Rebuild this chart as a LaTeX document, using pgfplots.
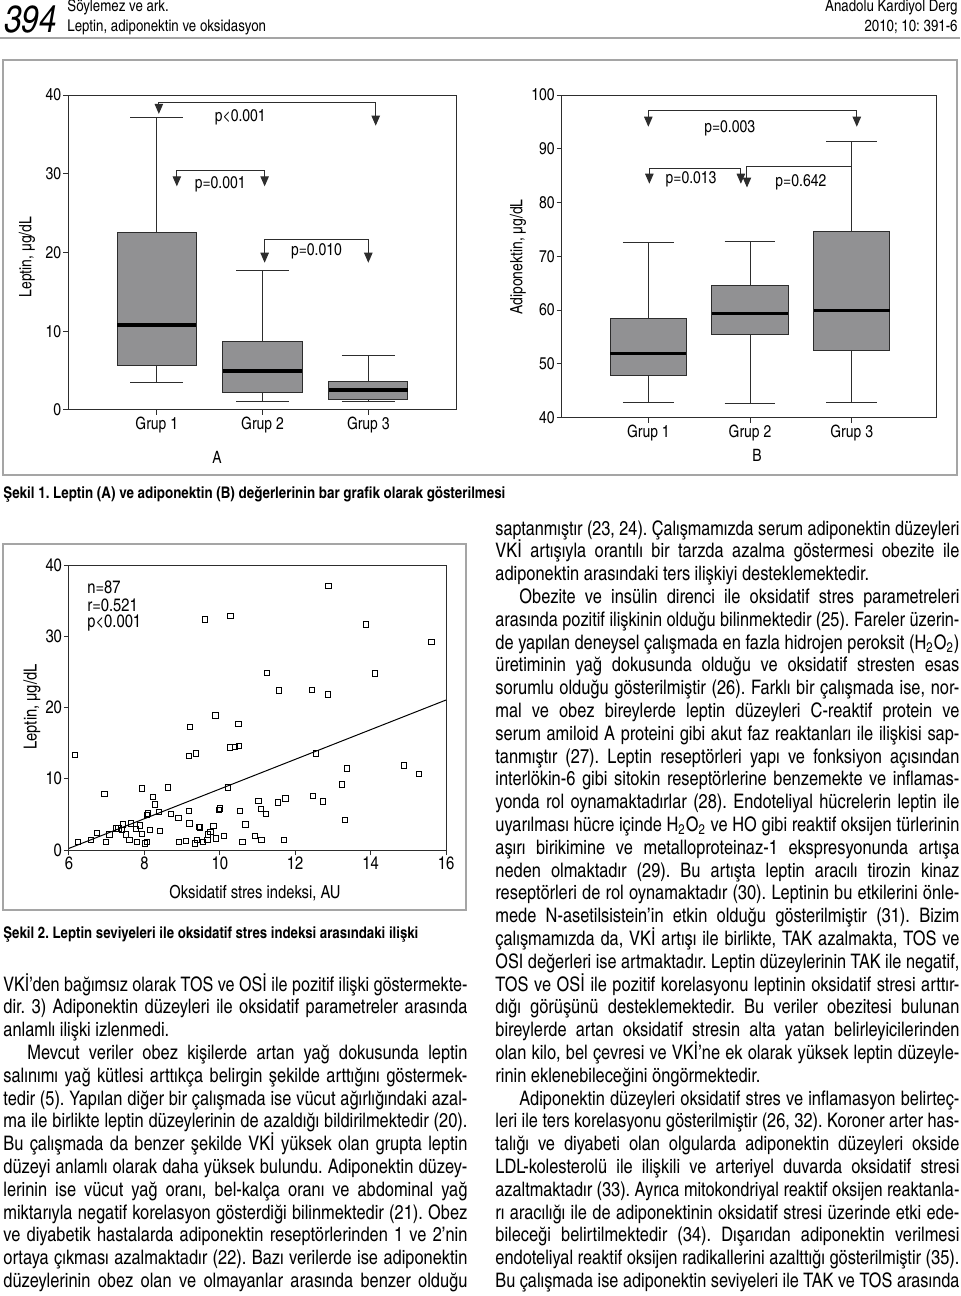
\documentclass[border=0pt]{standalone}
\usepackage{pgfplots}
\pgfplotsset{compat=1.18}
\usepgfplotslibrary{statistics}
\usetikzlibrary{arrows.meta}
\usepackage{graphicx}
\usepackage{fontspec}
\setmainfont{texgyreheroscn}[Extension=.otf,UprightFont=*-regular,BoldFont=*-bold,ItalicFont=*-italic,BoldItalicFont=*-bolditalic]
\definecolor{boxgray}{RGB}{145,145,147}
\definecolor{framegray}{RGB}{165,165,165}
\definecolor{axgray}{RGB}{45,45,45}
\frenchspacing
\newlength\colw \setlength\colw{232pt}
\newlength\jlnat
\newcommand\jl[1]{%
  \settowidth\jlnat{#1}%
  \ifdim\jlnat>\colw
    \pgfmathsetmacro\jlsc{\colw/\jlnat}%
    \scalebox{\jlsc}[1]{#1}%
  \else
    \hbox to \colw{\spaceskip=\fontdimen2\font plus 1fil\relax #1}%
  \fi}
\newcommand\bodyfont{\fontsize{10}{12}\selectfont}
\newcommand\LL[2]{\node[anchor=base west,inner sep=0pt,font=\bodyfont] at (3,{991+22.8*(#1-1)}) {#2};}
\newcommand\RL[2]{\node[anchor=base west,inner sep=0pt,font=\bodyfont] at (495,{535+22.8*(#1-1)}) {#2};}
\newcommand\ind{\hspace*{12pt}}
\pgfplotsset{
  /pgf/number format/assume math mode=true,
  myax/.style={scale only axis, anchor=north west,
    axis line style={draw=axgray, line width=0.5pt},
    tick align=outside, xtick pos=bottom, ytick pos=left,
    major tick length=2.5pt, tick style={axgray, line width=0.5pt},
    xticklabel style={yshift=2.5pt}, yticklabel style={xshift=2.5pt},
    clip=false, boxplot/draw direction=y},
  bx/.style={draw=axgray, line width=0.5pt,
    boxplot/box extend=0.75, boxplot/whisker extend=0.5,
    boxplot/every box/.style={fill=boxgray, draw=axgray},
    boxplot/every median/.style={draw=black, line width=1.6pt}},
}
\tikzset{
  tri/.tip={Triangle[width=4.2pt,length=5pt]},
  parr/.style={-tri, draw=axgray, line width=0.5pt},
  pboth/.style={tri-tri, draw=axgray, line width=0.5pt},
  pleft/.style={tri-, draw=axgray, line width=0.5pt},
}
\begin{document}
\begin{tikzpicture}[x=0.5pt,y=-0.5pt]
\useasboundingbox (0,0) rectangle (960,1296);
\fill[white] (0,0) rectangle (960,1296);
% ---------- header ----------
\node[anchor=base west,inner sep=0pt,font=\fontsize{19}{19}\selectfont\itshape] at (4,32) {394};
\node[anchor=base west,inner sep=0pt,align=left,font=\fontsize{8.1}{10}\selectfont] at (67,31.5) {Söylemez ve ark.\\Leptin, adiponektin ve oksidasyon};
\node[anchor=base east,inner sep=0pt,align=right,font=\fontsize{8.1}{10}\selectfont] at (958,31.5) {Anadolu Kardiyol Derg\\2010; 10: 391-6};
\draw[framegray, line width=1pt] (0,38) -- (960,38);
% ---------- figure 1 frame ----------
\draw[framegray, line width=0.9pt] (3,60) rectangle (957,475);
% ---------- panel A ----------
\begin{axis}[myax, at={(34.15pt,-47.5pt)}, width=193.85pt, height=157.5pt,
  xmin=0.164, xmax=3.829, ymin=0, ymax=40, ytick={0,10,20,30,40},
  xtick={1,2,3}, xticklabels={Grup 1,Grup 2,Grup 3},
  ticklabel style={font=\fontsize{8.5}{10}\selectfont}]
\addplot[bx, boxplot prepared={lower whisker=3.5, lower quartile=5.6, median=10.8, upper quartile=22.5, upper whisker=37.1, draw position=1}] coordinates {};
\addplot[bx, boxplot prepared={lower whisker=1.05, lower quartile=2.2, median=4.95, upper quartile=8.7, upper whisker=17.7, draw position=2}] coordinates {};
\addplot[bx, boxplot prepared={lower whisker=1.05, lower quartile=1.35, median=2.55, upper quartile=3.6, upper whisker=6.95, draw position=3}] coordinates {};
\draw[pboth] (axis cs:1.02,37.6) -- (axis cs:1.02,39.07) -- (axis cs:3.07,39.07) -- (axis cs:3.07,36.1);
\draw[pboth] (axis cs:1.19,28.4) -- (axis cs:1.19,30.4) -- (axis cs:2.02,30.4) -- (axis cs:2.02,28.4);
\draw[pboth] (axis cs:2.02,18.7) -- (axis cs:2.02,21.6) -- (axis cs:3.0,21.6) -- (axis cs:3.0,18.7);
\node[font=\fontsize{8.5}{10}\selectfont] at (axis cs:1.79,37.2) {p<0.001};
\node[font=\fontsize{8.5}{10}\selectfont] at (axis cs:1.60,28.7) {p=0.001};
\node[font=\fontsize{8.5}{10}\selectfont] at (axis cs:2.51,20.2) {p=0.010};
\end{axis}
\node[rotate=90,font=\fontsize{8.5}{10}\selectfont] at (27,257) {Leptin, µg/dL};
\node[font=\fontsize{8.5}{10}\selectfont] at (217,457) {A};
% ---------- panel B ----------
\begin{axis}[myax, at={(280.85pt,-47.5pt)}, width=187.15pt, height=161.35pt,
  xmin=0.148, xmax=3.829, ymin=40, ymax=100, ytick={40,50,...,100},
  xtick={1,2,3}, xticklabels={Grup 1,Grup 2,Grup 3},
  ticklabel style={font=\fontsize{8.5}{10}\selectfont}]
\addplot[bx, boxplot prepared={lower whisker=42.9, lower quartile=47.8, median=51.9, upper quartile=58.5, upper whisker=72.5, draw position=1}] coordinates {};
\addplot[bx, boxplot prepared={lower whisker=42.7, lower quartile=55.5, median=59.3, upper quartile=64.6, upper whisker=72.7, draw position=2}] coordinates {};
\addplot[bx, boxplot prepared={lower whisker=42.9, lower quartile=52.5, median=59.9, upper quartile=74.7, upper whisker=91.4, draw position=3}] coordinates {};
\draw[pboth] (axis cs:1.0,94.1) -- (axis cs:1.0,97.1) -- (axis cs:3.05,97.1) -- (axis cs:3.05,94.1);
\draw[pboth] (axis cs:1.01,83.5) -- (axis cs:1.01,86.3) -- (axis cs:1.91,86.3) -- (axis cs:1.91,83.5);
\draw[pleft] (axis cs:1.97,82.8) -- (axis cs:1.97,86.7) -- (axis cs:3.0,86.7);
\node[font=\fontsize{8.5}{10}\selectfont] at (axis cs:1.80,93.8) {p=0.003};
\node[font=\fontsize{8.5}{10}\selectfont] at (axis cs:1.42,84.3) {p=0.013};
\node[font=\fontsize{8.5}{10}\selectfont] at (axis cs:2.50,83.7) {p=0.642};
\end{axis}
\node[rotate=90,font=\fontsize{8.5}{10}\selectfont] at (518,257) {Adiponektin, µg/dL};
\node[font=\fontsize{8.5}{10}\selectfont] at (757,455) {B};
% ---------- caption 1 ----------
\node[anchor=base west,inner sep=0pt,font=\fontsize{8}{10}\selectfont\bfseries] at (3,498) {\resizebox{251pt}{\height}{Şekil 1. Leptin (A) ve adiponektin (B) değerlerinin bar grafik olarak gösterilmesi}};
% ---------- figure 2 ----------
\draw[framegray, line width=0.9pt] (3,544) rectangle (466,910);
\begin{axis}[myax, at={(34.5pt,-282.5pt)}, width=188.5pt, height=142.5pt,
  xmin=6, xmax=16, ymin=0, ymax=40, xtick={6,8,...,16}, ytick={0,10,...,40},
  ticklabel style={font=\fontsize{9}{10}\selectfont}]
\addplot[only marks, mark=square, mark size=1.3pt, mark options={draw=black, line width=0.35pt, fill=white}] coordinates {
(6.16,13.33) (6.23,1.17) (6.58,1.40) (6.73,2.43) (6.94,7.86) (6.97,1.17) (7.07,2.20) (7.24,3.04)
(7.31,3.04) (7.40,2.81) (7.42,3.60) (7.50,2.20) (7.60,1.40) (7.63,3.74) (7.78,2.99) (7.79,1.17)
(7.87,3.46) (7.94,8.65) (7.94,2.25) (8.02,0.94) (8.06,4.91) (8.09,5.15) (8.07,1.17) (8.14,2.81)
(8.22,7.49) (8.27,6.41) (8.38,5.38) (8.42,2.67) (8.63,8.80) (8.70,5.05) (8.90,4.54) (8.91,1.17)
(9.09,1.31) (9.17,5.47) (9.18,13.19) (9.21,17.31) (9.19,3.74) (9.34,0.94) (9.37,13.57) (9.40,1.40)
(9.45,3.27) (9.47,3.18) (9.55,1.17) (9.60,32.37) (9.67,1.40) (9.69,2.20) (9.75,2.57) (9.83,3.37)
(9.88,18.90) (9.89,1.64) (9.98,5.61) (10.01,5.85) (10.11,2.01) (10.21,8.80) (10.27,14.41) (10.28,32.89)
(10.39,14.50) (10.49,17.73) (10.51,14.64) (10.54,5.47) (10.60,1.17) (10.68,3.60) (10.92,2.01) (11.02,6.92)
(11.08,5.80) (11.10,1.40) (11.22,5.05) (11.25,24.89) (11.55,6.69) (11.56,22.41) (11.69,1.40) (11.74,7.25)
(12.45,22.50) (12.47,7.63) (12.55,13.57) (12.73,6.83) (12.86,21.85) (12.88,37.10) (13.24,9.22) (13.32,4.21)
(13.37,11.46) (13.88,31.67) (14.11,24.80) (14.89,11.88) (15.28,10.67) (15.61,29.19)
};
\addplot[black, line width=0.5pt] coordinates {(6,0.23) (16,21.05)};
\end{axis}
\node[anchor=west,inner sep=0pt,font=\fontsize{9}{10}\selectfont] at (87,587) {n=87};
\node[anchor=west,inner sep=0pt,font=\fontsize{9}{10}\selectfont] at (87,605) {r=0.521};
\node[anchor=west,inner sep=0pt,font=\fontsize{9}{10}\selectfont] at (87,623) {p<0.001};
\node[rotate=90,font=\fontsize{9}{10}\selectfont] at (32,707) {Leptin, µg/dL};
\node[font=\fontsize{9}{10}\selectfont] at (255,893) {Oksidatif stres indeksi, AU};
\node[anchor=base west,inner sep=0pt,font=\fontsize{8}{10}\selectfont\bfseries] at (3,938) {\resizebox{207.5pt}{\height}{Şekil 2. Leptin seviyeleri ile oksidatif stres indeksi arasındaki ilişki}};
% ---------- left column ----------
\LL{1}{\jl{VKİ’den bağımsız olarak TOS ve OSİ ile pozitif ilişki göstermekte-}}
\LL{2}{\jl{dir. 3) Adiponektin düzeyleri ile oksidatif parametreler arasında}}
\LL{3}{anlamlı ilişki izlenmedi.}
\LL{4}{\jl{\ind Mevcut veriler obez kişilerde artan yağ dokusunda leptin}}
\LL{5}{\jl{salınımı yağ kütlesi arttıkça belirgin şekilde arttığını göstermek-}}
\LL{6}{\jl{tedir (5). Yapılan diğer bir çalışmada ise vücut ağırlığındaki azal-}}
\LL{7}{\jl{ma ile birlikte leptin düzeylerinin de azaldığı bildirilmektedir (20).}}
\LL{8}{\jl{Bu çalışmada da benzer şekilde VKİ yüksek olan grupta leptin}}
\LL{9}{\jl{düzeyi anlamlı olarak daha yüksek bulundu. Adiponektin düzey-}}
\LL{10}{\jl{lerinin ise vücut yağ oranı, bel-kalça oranı ve abdominal yağ}}
\LL{11}{\jl{miktarıyla negatif korelasyon gösterdiği bilinmektedir (21). Obez}}
\LL{12}{\jl{ve diyabetik hastalarda adiponektin reseptörlerinden 1 ve 2’nin}}
\LL{13}{\jl{ortaya çıkması azalmaktadır (22). Bazı verilerde ise adiponektin}}
\LL{14}{\jl{düzeylerinin obez olan ve olmayanlar arasında benzer olduğu}}
% ---------- right column ----------
\RL{1}{\jl{saptanmıştır (23, 24). Çalışmamızda serum adiponektin düzeyleri}}
\RL{2}{\jl{VKİ artışıyla orantılı bir tarzda azalma göstermesi obezite ile}}
\RL{3}{adiponektin arasındaki ters ilişkiyi desteklemektedir.}
\RL{4}{\jl{\ind Obezite ve insülin direnci ile oksidatif stres parametreleri}}
\RL{5}{\jl{arasında pozitif ilişkinin olduğu bilinmektedir (25). Fareler üzerin-}}
\RL{6}{\jl{de yapılan deneysel çalışmada en fazla hidrojen peroksit (H\textsubscript{2}O\textsubscript{2})}}
\RL{7}{\jl{üretiminin yağ dokusunda olduğu ve oksidatif stresten esas}}
\RL{8}{\jl{sorumlu olduğu gösterilmiştir (26). Farklı bir çalışmada ise, nor-}}
\RL{9}{\jl{mal ve obez bireylerde leptin düzeyleri C-reaktif protein ve}}
\RL{10}{\jl{serum amiloid A proteini gibi akut faz reaktanları ile ilişkisi sap-}}
\RL{11}{\jl{tanmıştır (27). Leptin reseptörleri yapı ve fonksiyon açısından}}
\RL{12}{\jl{interlökin-6 gibi sitokin reseptörlerine benzemekte ve inflamas-}}
\RL{13}{\jl{yonda rol oynamaktadırlar (28). Endoteliyal hücrelerin leptin ile}}
\RL{14}{\jl{uyarılması hücre içinde H\textsubscript{2}O\textsubscript{2} ve HO gibi reaktif oksijen türlerinin}}
\RL{15}{\jl{aşırı birikimine ve metalloproteinaz-1 ekspresyonunda artışa}}
\RL{16}{\jl{neden olmaktadır (29). Bu artışta leptin aracılı tirozin kinaz}}
\RL{17}{\jl{reseptörleri de rol oynamaktadır (30). Leptinin bu etkilerini önle-}}
\RL{18}{\jl{mede N-asetilsistein’in etkin olduğu gösterilmiştir (31). Bizim}}
\RL{19}{\jl{çalışmamızda da, VKİ artışı ile birlikte, TAK azalmakta, TOS ve}}
\RL{20}{\jl{OSI değerleri ise artmaktadır. Leptin düzeylerinin TAK ile negatif,}}
\RL{21}{\jl{TOS ve OSİ ile pozitif korelasyonu leptinin oksidatif stresi arttır-}}
\RL{22}{\jl{dığı görüşünü desteklemektedir. Bu veriler obezitesi bulunan}}
\RL{23}{\jl{bireylerde artan oksidatif stresin alta yatan belirleyicilerinden}}
\RL{24}{\jl{olan kilo, bel çevresi ve VKİ’ne ek olarak yüksek leptin düzeyle-}}
\RL{25}{rinin eklenebileceğini öngörmektedir.}
\RL{26}{\jl{\ind Adiponektin düzeyleri oksidatif stres ve inflamasyon belirteç-}}
\RL{27}{\jl{leri ile ters korelasyonu gösterilmiştir (26, 32). Koroner arter has-}}
\RL{28}{\jl{talığı ve diyabeti olan olgularda adiponektin düzeyleri okside}}
\RL{29}{\jl{LDL-kolesterolü ile ilişkili ve arteriyel duvarda oksidatif stresi}}
\RL{30}{\jl{azaltmaktadır (33). Ayrıca mitokondriyal reaktif oksijen reaktanla-}}
\RL{31}{\jl{rı aracılığı ile de adiponektinin oksidatif stresi üzerinde etki ede-}}
\RL{32}{\jl{bileceği belirtilmektedir (34). Dışarıdan adiponektin verilmesi}}
\RL{33}{\jl{endoteliyal reaktif oksijen radikallerini azalttığı gösterilmiştir (35).}}
\RL{34}{\jl{Bu çalışmada ise adiponektin seviyeleri ile TAK ve TOS arasında}}
\end{tikzpicture}
\end{document}
